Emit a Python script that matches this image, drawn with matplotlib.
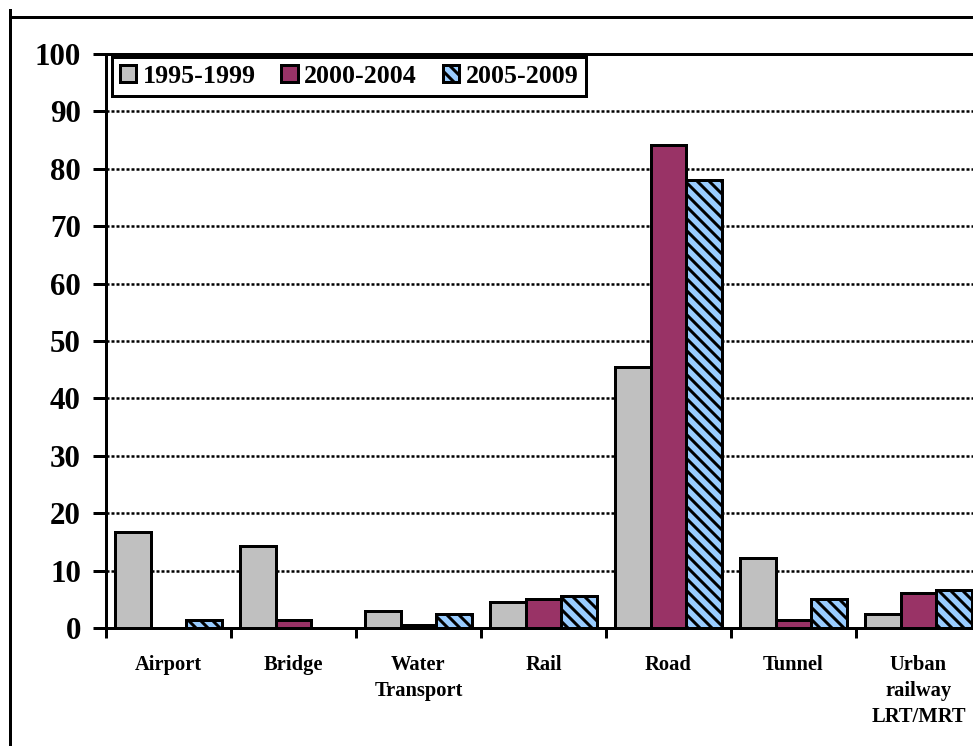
import matplotlib
matplotlib.use("Agg")
import matplotlib.pyplot as plt
from matplotlib.lines import Line2D
import numpy as np

# share of projects by sector, per period (%)
categories = ["Airport", "Bridge", "Water\nTransport", "Rail", "Road", "Tunnel",
              "Urban\nrailway\nLRT/MRT"]
periods = ["1995-1999", "2000-2004", "2005-2009"]
share_1995_1999 = [16.8, 14.3, 3.0, 4.5, 45.4, 12.2, 2.4]
share_2000_2004 = [0.0, 1.4, 0.5, 5.1, 84.2, 1.4, 6.1]
share_2005_2009 = [1.4, 0.0, 2.4, 5.6, 78.0, 5.1, 6.6]
y_ticks = [0, 10, 20, 30, 40, 50, 60, 70, 80, 90, 100]

plt.rcParams["font.family"] = ["Liberation Serif", "DejaVu Serif"]
plt.rcParams["font.weight"] = "bold"
plt.rcParams["hatch.linewidth"] = 3.0

W, H = 973, 746
fig = plt.figure(figsize=(W / 72, H / 72), dpi=72)
ax = fig.add_axes([106 / W, 1 - 628 / H, 875 / W, (628 - 54) / H])

x = np.arange(len(categories))
bw = 0.284
styles = [
    dict(color="#C0C0C0"),
    dict(color="#993366"),
    dict(color="#99CCFF", hatch="\\\\"),
]
for i, (vals, lab, st) in enumerate(zip([share_1995_1999, share_2000_2004, share_2005_2009],
                                        periods, styles)):
    ax.bar(x + (i - 1) * bw, vals, bw, label=lab, facecolor=st["color"],
           edgecolor="black", linewidth=3, hatch=st.get("hatch"), zorder=3)

ax.set_xlim(-0.5, len(categories) - 0.5)
ax.set_ylim(0, 100)

ax.set_yticks(y_ticks)
ax.set_yticklabels([str(t) for t in y_ticks], fontsize=31, fontweight="bold")
ax.tick_params(axis="y", length=13, width=3, pad=12)

# category boundaries carry the tick marks, centres carry the labels
ax.set_xticks(np.arange(-0.5, len(categories)), labels=[""] * (len(categories) + 1))
ax.set_xticks(x, labels=categories, minor=True)
ax.tick_params(axis="x", which="major", length=10, width=3)
ax.tick_params(axis="x", which="minor", length=0, pad=27, labelsize=20.5)
for t in ax.get_xticklabels(minor=True):
    t.set_fontweight("bold")
    t.set_linespacing(1.4)

for side in ["left", "bottom", "top"]:
    ax.spines[side].set_linewidth(3)
ax.spines["right"].set_visible(False)

ax.set_axisbelow(True)
ax.yaxis.grid(True, color="black", linewidth=2.5, linestyle=(0, (1.2, 0.8)))

leg = ax.legend(loc="upper left", bbox_to_anchor=(112 / W, 1 - 57 / H),
                bbox_transform=fig.transFigure, borderaxespad=0, ncol=3,
                prop={"size": 26, "weight": "bold"}, handlelength=0.62,
                handleheight=0.62, handletextpad=0.25, columnspacing=1.0,
                borderpad=0.3, fancybox=False, framealpha=1)
leg.get_frame().set_edgecolor("black")
leg.get_frame().set_linewidth(3)

# outer frame lines
fig.add_artist(Line2D([10 / W, 1], [1 - 17 / H, 1 - 17 / H], transform=fig.transFigure,
                      color="black", linewidth=3))
fig.add_artist(Line2D([10 / W, 10 / W], [0, 1 - 10 / H], transform=fig.transFigure,
                      color="black", linewidth=3))

fig.savefig("out.png", dpi=72)
